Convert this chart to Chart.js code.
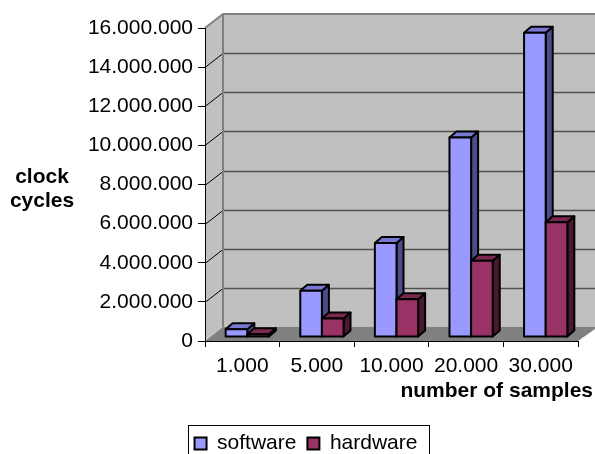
<!DOCTYPE html>
<html>
<head>
<meta charset="utf-8">
<script src="https://cdn.jsdelivr.net/npm/chart.js@4/dist/chart.umd.min.js"></script>
<style>
  html, body { margin: 0; padding: 0; background: #fff; }
</style>
</head>
<body>
<canvas id="cyclesChart" width="595" height="454"></canvas>
<script>
// clock cycles per run, by number of samples
const samples = ['1.000', '5.000', '10.000', '20.000', '30.000'];
const software = [400000, 2360000, 4800000, 10200000, 15550000];
const hardware = [140000, 940000, 1930000, 3900000, 5860000];
const yMax = 16000000;
const yStep = 2000000;

const FONT = "'Liberation Sans', Arial, Helvetica, sans-serif";
const WALL = { x: 18, y: -14 };     // depth of the back wall
const BAR_SHIFT = { x: 5, y: -4 };  // bars stand a little behind the front edge
const BAR_DEPTH = { x: 7, y: -6 };

function dots(v) {
    return String(v).replace(/\B(?=(\d{3})+(?!\d))/g, '.');
}

function poly(ctx, pts) {
    ctx.beginPath();
    ctx.moveTo(pts[0][0], pts[0][1]);
    for (let i = 1; i < pts.length; i++) ctx.lineTo(pts[i][0], pts[i][1]);
    ctx.closePath();
}

// walls, floor and gridlines behind the axes
const box3d = {
    id: 'box3d',
    beforeDraw(chart) {
        const { ctx, chartArea: a, scales: { y } } = chart;
        const dx = WALL.x, dy = WALL.y;
        ctx.save();
        ctx.fillStyle = '#c0c0c0';
        poly(ctx, [[a.left, a.top], [a.left + dx, a.top + dy], [a.left + dx, a.bottom + dy], [a.left, a.bottom]]);
        ctx.fill();
        ctx.fillRect(a.left + dx, a.top + dy, a.right - a.left + 2, a.bottom - a.top);

        ctx.fillStyle = '#808080';
        poly(ctx, [[a.left, a.bottom], [a.left + dx, a.bottom + dy], [a.right + dx + 2, a.bottom + dy], [a.right, a.bottom]]);
        ctx.fill();

        y.ticks.forEach(t => {
            if (t.value === 0 || t.value === yMax) return;
            const py = Math.round(y.getPixelForValue(t.value)) + 0.5;
            ctx.strokeStyle = '#505050';
            ctx.lineWidth = 1.5;
            ctx.beginPath();
            ctx.moveTo(a.left + dx, py + dy);
            ctx.lineTo(a.right + dx + 2, py + dy);
            ctx.stroke();
            ctx.strokeStyle = '#000';
            ctx.lineWidth = 1;
            ctx.beginPath();
            ctx.moveTo(a.left, py);
            ctx.lineTo(a.left + dx, py + dy);
            ctx.stroke();
        });

        ctx.strokeStyle = '#808080';
        ctx.lineWidth = 2;
        ctx.beginPath();
        ctx.moveTo(a.left, a.top);
        ctx.lineTo(a.left + dx, a.top + dy);
        ctx.lineTo(a.right + dx + 2, a.top + dy);
        ctx.moveTo(a.left + dx, a.top + dy);
        ctx.lineTo(a.left + dx, a.bottom + dy);
        ctx.stroke();
        ctx.restore();
    },
    // the columns: front, top and side faces
    beforeDatasetsDraw(chart) {
        const ctx = chart.ctx;
        ctx.save();
        ctx.lineWidth = 2;
        ctx.lineJoin = 'round';
        ctx.strokeStyle = '#000';
        chart.data.datasets.forEach((ds, i) => {
            chart.getDatasetMeta(i).data.forEach(el => {
                const p = el.getProps(['x', 'y', 'base', 'width'], true);
                const l = p.x - p.width / 2 + BAR_SHIFT.x;
                const r = p.x + p.width / 2 + BAR_SHIFT.x;
                const t = p.y + BAR_SHIFT.y;
                const b = p.base + BAR_SHIFT.y;
                const ex = BAR_DEPTH.x, ey = BAR_DEPTH.y;
                ctx.fillStyle = ds.sideColor;
                poly(ctx, [[r, t], [r + ex, t + ey], [r + ex, b + ey], [r, b]]);
                ctx.fill(); ctx.stroke();
                ctx.fillStyle = ds.topColor;
                poly(ctx, [[l, t], [l + ex, t + ey], [r + ex, t + ey], [r, t]]);
                ctx.fill(); ctx.stroke();
                ctx.fillStyle = ds.backgroundColor;
                poly(ctx, [[l, t], [r, t], [r, b], [l, b]]);
                ctx.fill(); ctx.stroke();
            });
        });
        ctx.restore();
        return false;
    },
    afterDraw(chart) {
        const ctx = chart.ctx;
        ctx.save();
        ctx.fillStyle = '#000';
        ctx.font = 'bold 21px ' + FONT;
        ctx.textAlign = 'center';
        ctx.textBaseline = 'alphabetic';
        ctx.fillText('clock', 42, 183);
        ctx.fillText('cycles', 42, 207);
        ctx.textAlign = 'right';
        ctx.fillText('number of samples', 593, 397);

        // frame round the legend
        const hb = chart.legend.legendHitBoxes;
        if (hb && hb.length) {
            const first = hb[0], last = hb[hb.length - 1];
            ctx.strokeStyle = '#000';
            ctx.lineWidth = 1;
            const x0 = Math.round(first.left - 7) + 0.5;
            const x1 = Math.round(last.left + last.width + 12) + 0.5;
            const y0 = Math.round(first.top - 8) + 0.5;
            ctx.strokeRect(x0, y0, x1 - x0, 60);
        }
        ctx.restore();
    }
};

Chart.defaults.font.family = FONT;
Chart.defaults.font.size = 21;
Chart.defaults.color = '#000';

new Chart(document.getElementById('cyclesChart'), {
    type: 'bar',
    data: {
        labels: samples,
        datasets: [{
            label: 'software',
            data: software,
            backgroundColor: '#9999ff',
            topColor: '#7878d2',
            sideColor: '#4c4c86',
            borderColor: '#000',
            borderWidth: 2
        }, {
            label: 'hardware',
            data: hardware,
            backgroundColor: '#993366',
            topColor: '#7a2950',
            sideColor: '#4a1930',
            borderColor: '#000',
            borderWidth: 2
        }]
    },
    options: {
        responsive: false,
        animation: false,
        events: [],
        layout: { padding: { left: 34, right: 17, top: 28, bottom: -10 } },
        datasets: { bar: { categoryPercentage: 0.58, barPercentage: 1 } },
        scales: {
            x: {
                afterFit: s => { s.height = 81; },
                grid: { drawOnChartArea: false, tickLength: 6, color: '#000' },
                border: { color: '#000', width: 1 },
                ticks: { padding: 7, maxRotation: 0 }
            },
            y: {
                min: 0,
                max: yMax,
                afterFit: s => { s.width = 171; },
                grid: { drawOnChartArea: false, tickLength: 7, color: '#000' },
                border: { color: '#000', width: 1 },
                ticks: { stepSize: yStep, padding: 5, callback: v => dots(v) }
            }
        },
        plugins: {
            tooltip: { enabled: false },
            legend: {
                position: 'bottom',
                labels: { boxWidth: 12, boxHeight: 12, padding: 11, color: '#000' }
            }
        }
    },
    plugins: [box3d]
});
</script>
</body>
</html>
